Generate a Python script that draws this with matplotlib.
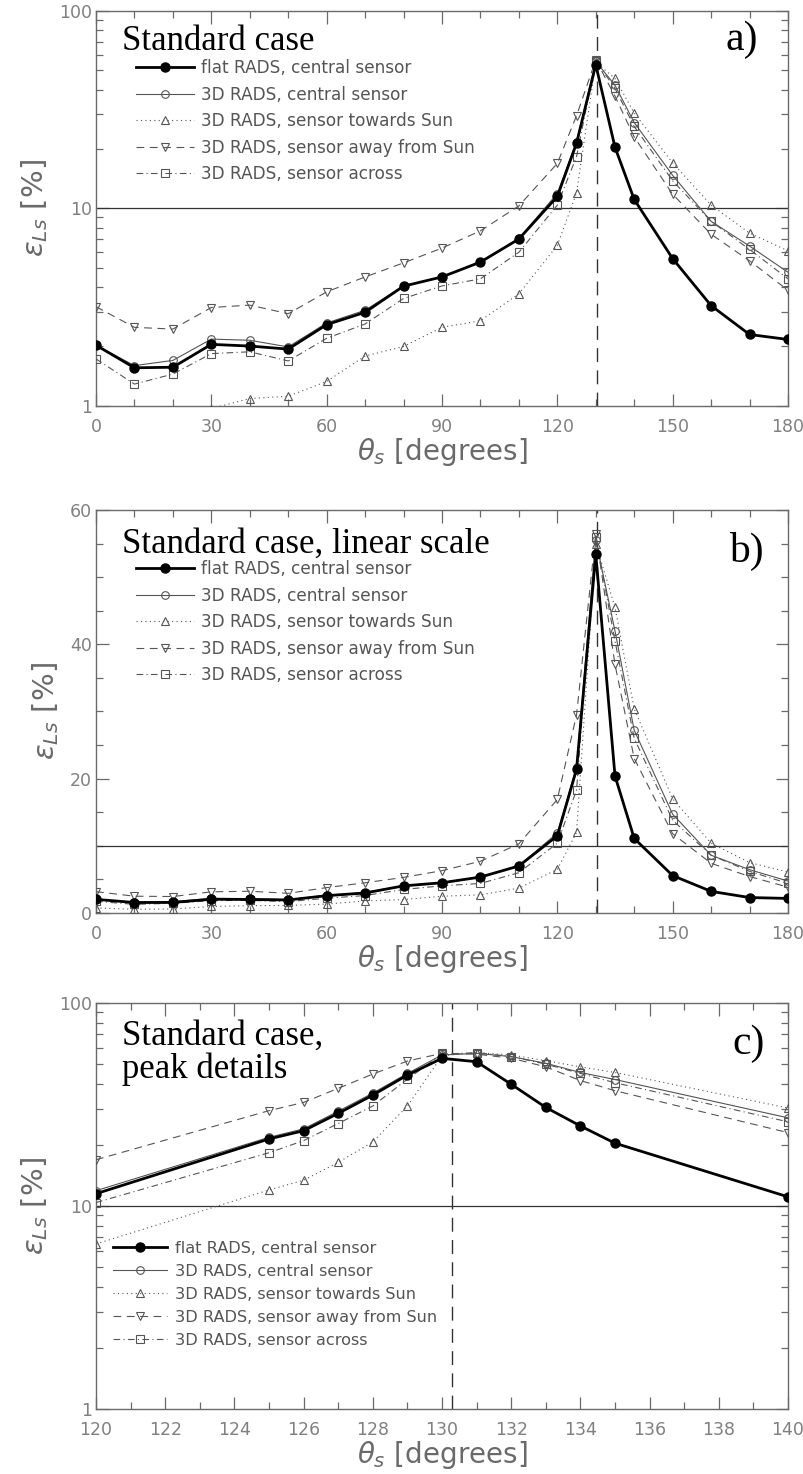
import numpy as np
import matplotlib.pyplot as plt
from matplotlib.ticker import LogLocator, NullFormatter, MultipleLocator

# solar zenith angle grid (coarse points for panels a/b, fine ones around the peak for c)
theta = np.array([0, 10, 20, 30, 40, 50, 60, 70, 80, 90, 100, 110, 120, 125,
                  126, 127, 128, 129, 130, 131, 132, 133, 134, 135,
                  140, 150, 160, 170, 180])
theta_coarse = [0, 10, 20, 30, 40, 50, 60, 70, 80, 90, 100, 110, 120, 125,
                130, 135, 140, 150, 160, 170, 180]
theta_peak = [120, 125, 126, 127, 128, 129, 130, 131, 132, 133, 134, 135, 140]

flat_central = np.array([2.03, 1.56, 1.57, 2.05, 2.01, 1.94, 2.58, 2.98, 4.04, 4.5, 5.35, 7.0, 11.5, 21.4,
                         23.5, 28.6, 35.2, 44.2, 53.4, 51.4, 39.8, 30.6, 24.8, 20.4,
                         11.1, 5.57, 3.22, 2.30, 2.17])
rads_central = np.array([2.03, 1.60, 1.70, 2.18, 2.15, 1.99, 2.63, 3.05, 4.06, 4.5, 5.35, 7.05, 11.9, 21.8,
                         24.0, 29.3, 36.0, 45.0, 55.5, 56.5, 54.5, 50.5, 45.5, 42.0,
                         27.2, 14.7, 8.6, 6.45, 4.75])
rads_towards = np.array([0.75, 0.55, 0.6, 0.97, 1.09, 1.12, 1.33, 1.79, 2.0, 2.5, 2.7, 3.7, 6.5, 12.0,
                         13.4, 16.4, 20.7, 31.1, 55.0, 57.0, 55.5, 52.0, 48.5, 45.5,
                         30.4, 17.0, 10.4, 7.5, 6.1])
rads_away = np.array([3.18, 2.5, 2.45, 3.15, 3.24, 2.93, 3.78, 4.5, 5.3, 6.3, 7.7, 10.3, 16.9, 29.5,
                      32.4, 38.0, 44.7, 51.8, 56.5, 56.0, 53.5, 48.5, 41.5, 37.0,
                      23.0, 11.8, 7.4, 5.43, 3.85])
rads_across = np.array([1.73, 1.29, 1.45, 1.84, 1.88, 1.69, 2.2, 2.6, 3.5, 4.05, 4.4, 6.0, 10.4, 18.3,
                        21.0, 25.5, 31.1, 42.2, 56.0, 57.0, 54.5, 50.0, 45.0, 40.5,
                        26.0, 13.8, 8.6, 6.2, 4.4])

labels = ['flat RADS, central sensor', '3D RADS, central sensor',
          '3D RADS, sensor towards Sun', '3D RADS, sensor away from Sun',
          '3D RADS, sensor across']
sun_angle = 130.3

grey = '#555555'
light = '#6a6a6a'
styles = [
    dict(color='black', lw=2.0, ls='-', marker='o', ms=6.5, mfc='black', mec='black', zorder=6),
    dict(color=grey, lw=0.8, ls='-', marker='o', ms=5.5, mfc='none', mec=grey, mew=0.8, zorder=5),
    dict(color=grey, lw=0.8, ls=(0, (1, 3)), marker='^', ms=6, mfc='none', mec=grey, mew=0.8, zorder=4),
    dict(color=grey, lw=0.8, ls=(0, (7, 5)), marker='v', ms=6, mfc='none', mec=grey, mew=0.8, zorder=4),
    dict(color=grey, lw=0.8, ls=(0, (6, 3, 1, 3)), marker='s', ms=5.5, mfc='none', mec=grey, mew=0.8, zorder=4),
]
series = [rads_central, rads_towards, rads_away, rads_across, flat_central]
order = [1, 2, 3, 4, 0]

plt.rcParams['font.family'] = 'DejaVu Sans'
plt.rcParams['mathtext.fontset'] = 'dejavusans'

fig = plt.figure(figsize=(8.04, 14.74), dpi=100)
ax_a = fig.add_axes([0.1194, 0.7246, 0.8607, 0.2680])
ax_b = fig.add_axes([0.1194, 0.3806, 0.8607, 0.2734])
ax_c = fig.add_axes([0.1194, 0.0441, 0.8607, 0.2754])


def draw(ax, xs):
    mask = np.isin(theta, xs)
    handles = [None] * 5
    for k, y in zip(order, series):
        h, = ax.plot(theta[mask], y[mask], label=labels[k], **styles[k])
        handles[k] = h
    ax.axhline(10, color='#333333', lw=0.9, zorder=2)
    ax.axvline(sun_angle, color='#333333', lw=1.0, ls=(0, (10, 6)), zorder=2)
    return handles


def frame(ax):
    for s in ax.spines.values():
        s.set_color(light)
        s.set_linewidth(1.0)
    ax.tick_params(which='both', direction='in', top=True, right=True,
                   colors=light, labelcolor='#808080', labelsize=12.5)
    ax.tick_params(which='major', length=9, width=0.9)
    ax.tick_params(which='minor', length=5, width=0.9)
    ax.tick_params(axis='x', pad=9)
    ax.tick_params(axis='y', pad=3)
    ax.set_ylabel(r'$\epsilon_{Ls}\ \left[\%\right]$', fontsize=21, color=light, labelpad=6)
    ax.set_xlabel(r'$\theta_s\ \left[\mathrm{degrees}\right]$', fontsize=20, color=light, labelpad=0)


def log_axis(ax):
    ax.set_yscale('log')
    ax.set_ylim(1, 100)
    ax.set_yticks([1, 10, 100])
    ax.set_yticklabels(['1', '10', '100'])
    ax.yaxis.set_minor_locator(LogLocator(base=10, subs=np.arange(2, 10)))
    ax.yaxis.set_minor_formatter(NullFormatter())


def legend(ax, anchor, size=12.2):
    hs = draw_handles[ax]
    ax.legend(hs, labels, loc='upper left', bbox_to_anchor=anchor, frameon=False,
              borderpad=0, borderaxespad=0, handlelength=3.4, handletextpad=0.45,
              labelspacing=0.5, prop=dict(size=size), labelcolor='#555555')


serif = 'Liberation Serif'
draw_handles = {}

# panel a
draw_handles[ax_a] = draw(ax_a, theta_coarse)
log_axis(ax_a)
ax_a.set_xlim(0, 180)
ax_a.set_xticks(np.arange(0, 181, 30))
ax_a.xaxis.set_minor_locator(MultipleLocator(10))
frame(ax_a)
ax_a.text(0.038, 0.9, 'Standard case', transform=ax_a.transAxes, family=serif,
          fontsize=25, va='baseline')
ax_a.text(0.91, 0.9, 'a)', transform=ax_a.transAxes, family=serif, fontsize=30, va='baseline')
legend(ax_a, (0.058, 0.878))

# panel b
draw_handles[ax_b] = draw(ax_b, theta_coarse)
ax_b.set_xlim(0, 180)
ax_b.set_ylim(0, 60)
ax_b.set_xticks(np.arange(0, 181, 30))
ax_b.xaxis.set_minor_locator(MultipleLocator(10))
ax_b.set_yticks([0, 20, 40, 60])
ax_b.yaxis.set_minor_locator(MultipleLocator(5))
frame(ax_b)
ax_b.text(0.038, 0.895, 'Standard case, linear scale', transform=ax_b.transAxes, family=serif,
          fontsize=25, va='baseline')
ax_b.text(0.915, 0.87, 'b)', transform=ax_b.transAxes, family=serif, fontsize=30, va='baseline')
legend(ax_b, (0.058, 0.875))

# panel c
draw_handles[ax_c] = draw(ax_c, theta_peak)
log_axis(ax_c)
ax_c.set_xlim(120, 140)
ax_c.set_xticks(np.arange(120, 141, 2))
ax_c.xaxis.set_minor_locator(MultipleLocator(1))
frame(ax_c)
ax_c.text(0.038, 0.815, 'Standard case,\npeak details', transform=ax_c.transAxes, family=serif,
          fontsize=25, va='baseline', linespacing=1.0)
ax_c.text(0.92, 0.875, 'c)', transform=ax_c.transAxes, family=serif, fontsize=30, va='baseline')
legend(ax_c, (0.024, 0.415), size=11.6)

fig.savefig('out.png', dpi=100)
